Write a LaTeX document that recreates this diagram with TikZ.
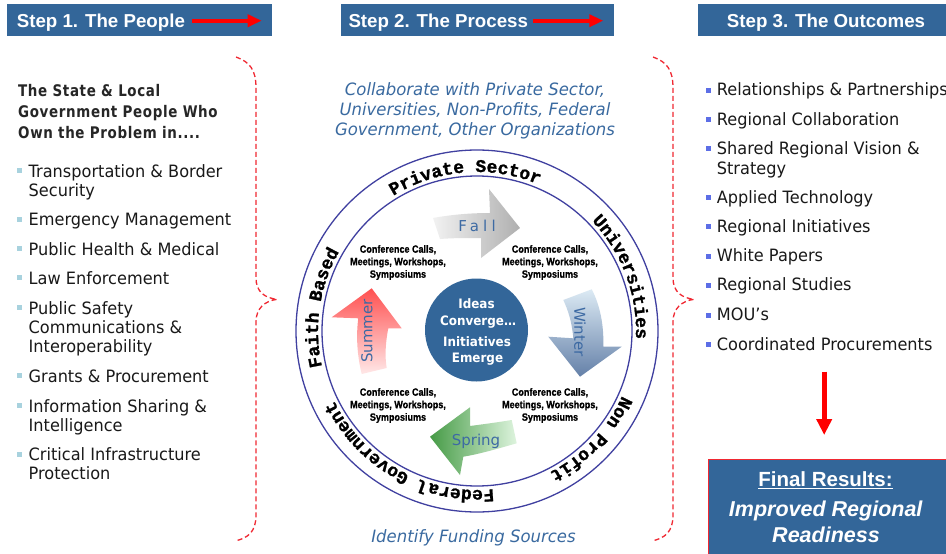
\documentclass[tikz,border=0pt]{standalone}
\usepackage{fontspec}
\setmainfont{DejaVu Sans}
\newfontfamily\hdfont{Liberation Sans}
\newfontfamily\listfont[FakeStretch=0.95]{DejaVu Sans}
\newfontfamily\leadfont[FakeStretch=0.84,LetterSpace=4]{DejaVu Sans}
\newfontfamily\ringfont[FakeBold=1.2]{Liberation Mono}
\newfontfamily\confont[FakeStretch=0.86,FakeBold=0.8]{Liberation Sans}
\newfontfamily\itfont[FakeStretch=0.97]{DejaVu Sans}
\newfontfamily\corefont[FakeStretch=0.92]{DejaVu Sans}
\newfontfamily\lblfont{DejaVu Sans}
\usetikzlibrary{decorations.text,arrows.meta}
\definecolor{hdblue}{RGB}{51,102,153}
\definecolor{ringblue}{RGB}{64,64,160}
\definecolor{itblue}{RGB}{58,106,160}
\definecolor{lblblue}{RGB}{61,106,163}
\definecolor{lbul}{RGB}{168,210,222}
\definecolor{rbul}{RGB}{92,110,230}
\definecolor{braced}{RGB}{240,40,50}
\definecolor{fallL}{RGB}{242,242,242}
\definecolor{fallR}{RGB}{175,175,175}
\definecolor{winT}{RGB}{220,234,244}
\definecolor{winB}{RGB}{100,128,168}
\definecolor{sprL}{RGB}{70,155,70}
\definecolor{sprR}{RGB}{222,244,222}
\definecolor{sumT}{RGB}{255,80,80}
\definecolor{sumB}{RGB}{255,232,232}
\begin{document}
\begin{tikzpicture}[x=1pt,y=1pt,
  hdbox/.style={fill=hdblue,draw=none,anchor=north west,inner sep=0pt},
  hdtext/.style={font=\hdfont\bfseries\fontsize{18.7}{20}\selectfont,text=white,inner sep=0pt,anchor=base west},
  redarrow/.style={draw=red,line width=4pt,-{Triangle[length=14pt,width=12pt]}},
  downarrow/.style={draw=red,line width=5pt,-{Triangle[length=16pt,width=15pt]}},
  leadtext/.style={font=\leadfont\bfseries\fontsize{16}{18}\selectfont,inner sep=0pt,anchor=base west,text=black!85},
  listtext/.style={font=\listfont\fontsize{17}{19}\selectfont,inner sep=0pt,anchor=base west,text=black!90},
  ittext/.style={font=\itfont\itshape\fontsize{17}{20}\selectfont,text=itblue,inner sep=0pt,anchor=base},
  context/.style={font=\confont\bfseries\fontsize{10.5}{12.5}\selectfont,align=center,inner sep=0pt},
  coretext/.style={font=\corefont\bfseries\fontsize{13}{15}\selectfont,text=white,inner sep=0pt,anchor=base},
  lbl/.style={font=\lblfont\fontsize{15}{17}\selectfont,text=lblblue,inner sep=0pt},
  ring/.style={draw=ringblue,line width=1.3pt},
  brace/.style={draw=braced,line width=1.3pt,dash pattern=on 5pt off 3pt},
  ringtxt/.style={decorate,decoration={text along path,text align=center,
     text={|\ringfont\bfseries\fontsize{18}{18}\selectfont|#1}}},
  finaltext/.style={text=white,inner sep=0pt,anchor=base}
]
\useasboundingbox (0,0) rectangle (946,-554);
\clip (0,0) rectangle (946,-554);
\fill[white] (0,0) rectangle (946,-554);

% ---------- headers
\node[hdbox,minimum width=265pt,minimum height=32pt] (h1) at (6.7,-4) {};
\node[hdbox,minimum width=272.6pt,minimum height=32pt] (h2) at (340.7,-4) {};
\node[hdbox,minimum width=260pt,minimum height=32pt] (h3) at (697.3,-4) {};
\node[hdtext] (t1) at (16.7,-27.7) {Step 1. The People};
\node[hdtext] (t2) at (348.3,-27.7) {Step 2. The Process};
\node[hdtext,anchor=base] (t3) at (826,-27.7) {Step 3. The Outcomes};
\coordinate (a1s) at (191.7,-20.7);
\coordinate (a1e) at (261.7,-20.7);
\coordinate (a2s) at (533.3,-20.7);
\coordinate (a2e) at (603.3,-20.7);
\draw[redarrow] (a1s) -- (a1e);
\draw[redarrow] (a2s) -- (a2e);

% ---------- left column
\node[leadtext] (lh1) at (18,-96) {The State \& Local};
\node[leadtext] (lh2) at (18,-117) {Government People Who};
\node[leadtext] (lh3) at (18,-138) {Own the Problem in....};
\foreach \yy/\txt [count=\i] in {177/Transportation \& Border,196/Security,225.7/Emergency Management,255/Public Health \& Medical,284.3/Law Enforcement,314/Public Safety,333.3/Communications \&,352.3/Interoperability,382.3/Grants \& Procurement,412.3/Information Sharing \&,431/Intelligence,460.7/Critical Infrastructure,479.3/Protection}
  \node[listtext] (L\i) at (28.5,-\yy) {\txt};
\foreach \yy in {177,225.7,255,284.3,314,382.3,412.3,460.7}
  \fill[lbul] (17,-\yy+4) rectangle (22,-\yy+9);

% ---------- braces
\draw[brace] (236,-57) .. controls (250,-62) and (256,-70) .. (256,-88) -- (256,-278)
  .. controls (256,-292) and (265,-298) .. (277,-299.3)
  .. controls (265,-301) and (256,-308) .. (256,-322) -- (256,-515)
  .. controls (256,-532) and (248,-538) .. (235,-541);
\draw[brace] (653,-57) .. controls (667,-62) and (673,-70) .. (673,-88) -- (673,-278)
  .. controls (673,-292) and (682,-298) .. (694,-299.3)
  .. controls (682,-301) and (673,-308) .. (673,-322) -- (673,-515)
  .. controls (673,-532) and (665,-538) .. (652,-541);

% ---------- center texts
\node[ittext] (c1) at (475,-95) {Collaborate with Private Sector,};
\node[ittext] (c2) at (475,-115) {Universities, Non-Profits, Federal};
\node[ittext] (c3) at (475,-135) {Government, Other Organizations};
\node[ittext] (c4) at (473.5,-542.7) {Identify Funding Sources};

% ---------- ring
\coordinate (c) at (477,-331);
\draw[ring] (c) circle[radius=181];
\draw[ring] (c) circle[radius=155];
\path[ringtxt=Private Sector] (c) ++(134.5:159) arc[start angle=134.5,end angle=54.5,radius=159];
\path[ringtxt=Universities] (c) ++(60.5:159) arc[start angle=60.5,end angle=-19.5,radius=159];
\path[ringtxt=Non Profit] (c) ++(-8.5:159) arc[start angle=-8.5,end angle=-78.5,radius=159];
\path[ringtxt=Federal Government] (c) ++(-74:159) arc[start angle=-74,end angle=-164,radius=159];
\path[ringtxt=Faith Based] (c) ++(211.5:159) arc[start angle=211.5,end angle=131.5,radius=159];

% ---------- block arrows
\path[left color=fallL,right color=fallR] (433,-218) .. controls (455,-214) and (475,-213) .. (490,-213)
  -- (489,-189) -- (520,-228) -- (481,-258) -- (481,-238)
  .. controls (465,-238) and (452,-238) .. (440,-239) -- cycle;
\path[top color=winT,bottom color=winB] (563.3,-300) -- (591.7,-289.3)
  .. controls (600,-305) and (604,-325) .. (603.3,-346.7) -- (621.7,-346.7) -- (580,-376.7)
  -- (548.3,-336.7) -- (573.3,-338.3) .. controls (572,-322) and (568,-310) .. cycle;
\path[left color=sprL,right color=sprR] (430,-436.7) -- (470,-407.3) -- (470,-426)
  .. controls (485,-424) and (500,-422) .. (511.7,-420) -- (516.7,-443.3)
  .. controls (500,-448) and (480,-454) .. (463.3,-456.7) -- (460,-475) -- cycle;
\path[top color=sumT,bottom color=sumB] (371.7,-288.3) -- (401.7,-328.3) -- (388.3,-328.3)
  .. controls (385,-345) and (385,-358) .. (386.7,-368) -- (361.7,-374)
  .. controls (357,-355) and (356,-335) .. (358.3,-318.3) -- (331.7,-317.3) -- cycle;
\node[lbl,font=\lblfont\addfontfeature{LetterSpace=28}\fontsize{15}{17}\selectfont] (fall) at (477,-226) {Fall};
\node[lbl,rotate=-90] (winter) at (580,-332) {Winter};
\node[lbl,anchor=base] (spring) at (476,-445) {Spring};
\node[lbl,rotate=90] (summer) at (367,-331) {Summer};

% ---------- conference texts
\node[context] (k1) at (398,-262.5) {Conference Calls,\\Meetings, Workshops,\\Symposiums};
\node[context] (k2) at (550,-262.5) {Conference Calls,\\Meetings, Workshops,\\Symposiums};
\node[context] (k3) at (398,-405.5) {Conference Calls,\\Meetings, Workshops,\\Symposiums};
\node[context] (k4) at (550,-405.5) {Conference Calls,\\Meetings, Workshops,\\Symposiums};

% ---------- core disk
\node[circle,fill=hdblue,minimum size=103pt,inner sep=0pt] (core) at (476.5,-330) {};
\node[coretext] (g1) at (476.5,-308.3) {Ideas};
\node[coretext] (g2) at (478,-325) {Converge…};
\node[coretext] (g3) at (477,-346) {Initiatives};
\node[coretext] (g4) at (477.5,-362.7) {Emerge};

% ---------- right column
\foreach \yy/\txt [count=\i] in {95.7/Relationships \& Partnerships,125/Regional Collaboration,154.3/Shared Regional Vision \&,174/Strategy,203.3/Applied Technology,232.3/Regional Initiatives,261.7/White Papers,290.7/Regional Studies,320.7/MOU’s,350/Coordinated Procurements}
  \node[listtext] (R\i) at (716.7,-\yy) {\txt};
\foreach \yy in {95.7,125,154.3,203.3,232.3,261.7,290.7,320.7,350}
  \fill[rbul] (705.7,-\yy+3) rectangle (710.7,-\yy+8);

\coordinate (ds) at (824.2,-371.7);
\coordinate (de) at (824.2,-435);
\draw[downarrow] (ds) -- (de);

% ---------- final box
\node[hdbox,draw=braced,line width=0.8pt,minimum width=250pt,minimum height=110pt] (fin) at (708.3,-459.3) {};
\node[finaltext,font=\hdfont\bfseries\fontsize{20.5}{22}\selectfont] (f1) at (825.5,-486.7) {\underline{Final Results:}};
\node[finaltext,font=\hdfont\bfseries\itshape\fontsize{21.5}{23}\selectfont] (f2) at (825.7,-516.7) {Improved Regional};
\node[finaltext,font=\hdfont\bfseries\itshape\fontsize{21.5}{23}\selectfont] (f3) at (826,-542.7) {Readiness};
\end{tikzpicture}
\end{document}
